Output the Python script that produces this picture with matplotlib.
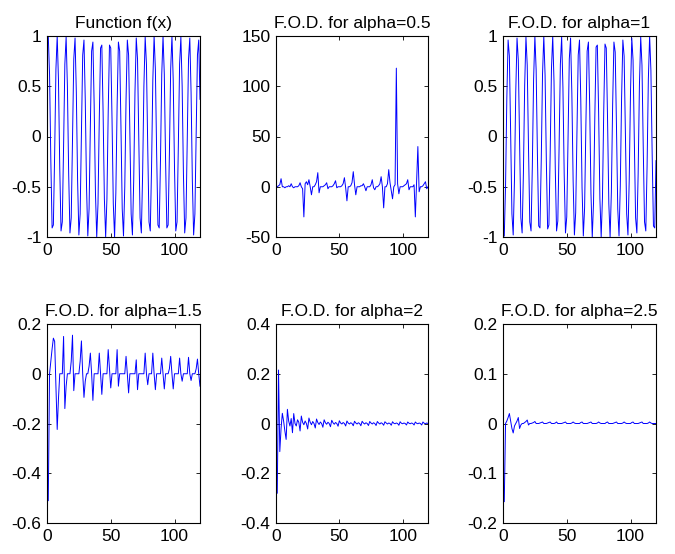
import matplotlib
matplotlib.use('Agg')
import matplotlib.pyplot as plt

plt.rcParams['font.family'] = ['Liberation Sans', 'DejaVu Sans']
plt.rcParams['axes.unicode_minus'] = False

# sample index 1..120 (MATLAB style plot(y))
x = list(range(1, 121))

f_vals = [1.00, 0.62, -0.24, -0.91, -0.88, -0.17, 0.67, 1.00, 0.56, -0.31,
          -0.94, -0.85, -0.10, 0.72, 0.99, 0.50, -0.37, -0.96, -0.81, -0.03,
          0.77, 0.98, 0.44, -0.44, -0.98, -0.77, 0.03, 0.81, 0.96, 0.37,
          -0.50, -0.99, -0.72, 0.10, 0.85, 0.94, 0.31, -0.56, -1.00, -0.67,
          0.17, 0.88, 0.91, 0.24, -0.62, -1.00, -0.62, 0.24, 0.91, 0.88,
          0.17, -0.67, -1.00, -0.56, 0.31, 0.94, 0.85, 0.10, -0.72, -0.99,
          -0.50, 0.37, 0.96, 0.81, 0.03, -0.77, -0.98, -0.44, 0.44, 0.98,
          0.77, -0.03, -0.81, -0.96, -0.37, 0.50, 0.99, 0.72, -0.10, -0.85,
          -0.94, -0.31, 0.56, 1.00, 0.67, -0.17, -0.88, -0.91, -0.24, 0.62,
          1.00, 0.62, -0.24, -0.91, -0.88, -0.17, 0.67, 1.00, 0.56, -0.31,
          -0.94, -0.85, -0.10, 0.72, 0.99, 0.50, -0.37, -0.96, -0.81, -0.03,
          0.77, 0.98, 0.44, -0.44, -0.98, -0.77, 0.03, 0.81, 0.96, 0.37]

fod_05 = [0, 1, 2, 8, 0, 0, -1, 0, 0, 1,
          0, 3, 0, -1, 0, 0, 0, 1, 4, 0,
          -2, -30, 3, 5, 2, 7, 0, -8, 0, 0,
          2, 5, 14, -6, 0, 0, 0, 1, 2, 4,
          -2, 0, 0, 0, 1, 3, 6, -1, 0, 0,
          0, 1, 3, 9, -1, -14, 0, 0, 1, 4,
          15, 2, -8, 0, 0, 0, 1, 1, 3, 0,
          -4, 0, 0, 0, 2, 7, -1, -3, 0, 0,
          1, 3, 10, 0, -21, 0, 0, 3, 17, 4,
          -4, -12, 0, 2, 118, 3, -7, 0, 0, 0,
          1, 2, 3, 7, -3, 0, 0, 0, 2, -30,
          5, 40, -5, 0, 0, 1, 3, 5, -2, 0]

fod_1 = [-0.99, -0.49, 0.38, 0.96, 0.80, 0.03, -0.77, -0.98, -0.43, 0.44,
         0.98, 0.76, -0.04, -0.81, -0.96, -0.37, 0.51, 0.99, 0.71, -0.11,
         -0.85, -0.94, -0.30, 0.57, 1.00, 0.66, -0.18, -0.89, -0.91, -0.24,
         0.62, 1.00, 0.61, -0.25, -0.92, -0.88, -0.17, 0.67, 1.00, 0.55,
         -0.32, -0.94, -0.84, -0.10, 0.72, 0.99, 0.49, -0.38, -0.96, -0.80,
         -0.03, 0.77, 0.98, 0.43, -0.44, -0.98, -0.76, 0.04, 0.81, 0.96,
         0.37, -0.51, -0.99, -0.71, 0.11, 0.85, 0.94, 0.30, -0.57, -1.00,
         -0.66, 0.18, 0.89, 0.91, 0.24, -0.62, -1.00, -0.61, 0.25, 0.92,
         0.88, 0.17, -0.67, -1.00, -0.55, 0.32, 0.94, 0.84, 0.10, -0.72,
         -0.99, -0.49, 0.38, 0.96, 0.80, 0.03, -0.77, -0.98, -0.43, 0.44,
         0.98, 0.76, -0.04, -0.81, -0.96, -0.37, 0.51, 0.99, 0.71, -0.11,
         -0.85, -0.94, -0.30, 0.57, 1.00, 0.66, -0.18, -0.89, -0.91, -0.24]

fod_15 = [-0.51, 0.0, 0.05, 0.10, 0.143, 0.13, -0.05, -0.224, -0.10, 0.0,
          0.0, 0.0, 0.15, -0.14, -0.05, 0.0, 0.0, 0.0, 0.05, 0.155,
          -0.068, 0.0, 0.0, 0.0, 0.0, 0.05, 0.132, 0.0, -0.095, -0.03,
          0.0, 0.0, 0.03, 0.083, 0.0, -0.107, 0.0, 0.0, 0.0, 0.0,
          0.083, 0.0, -0.083, 0.0, 0.0, 0.0, 0.0, 0.097, 0.02, -0.057,
          0.0, 0.0, 0.0, 0.0, 0.097, -0.05, 0.0, 0.0, 0.0, 0.0,
          0.0, 0.07, 0.0, -0.077, 0.0, 0.0, 0.0, 0.0, 0.0, 0.056,
          -0.064, 0.0, 0.0, 0.0, 0.0, 0.0, 0.083, 0.0, -0.044, 0.0,
          0.0, 0.0, 0.083, 0.0, -0.064, 0.0, 0.0, 0.0, 0.0, 0.063,
          0.0, -0.061, 0.0, 0.0, 0.0, 0.02, 0.07, 0.0, -0.061, 0.0,
          0.0, 0.0, 0.0, 0.063, 0.0, -0.03, 0.0, 0.0, 0.0, 0.0,
          0.066, 0.0, -0.027, 0.0, 0.0, 0.0, 0.02, 0.059, 0.0, -0.05]

fod_2 = [-0.28, 0.215, -0.113, -0.02, 0.041, 0.01, -0.03, -0.064, 0.057, 0.01,
         -0.01, 0.02, -0.037, 0.04, 0.0, -0.01, 0.015, 0.005, -0.03, 0.03,
         0.005, -0.005, 0.01, 0.0, -0.022, 0.022, 0.005, -0.005, 0.008, 0.0,
         -0.018, 0.018, 0.004, -0.004, 0.006, 0.0, -0.015, 0.015, 0.003, -0.003,
         0.005, 0.0, -0.013, 0.013, 0.003, -0.003, 0.004, 0.0, -0.011, 0.011,
         0.002, -0.002, 0.004, 0.0, -0.01, 0.01, 0.002, -0.002, 0.003, 0.0,
         -0.009, 0.009, 0.002, -0.002, 0.003, 0.0, -0.009, 0.009, 0.002, -0.002,
         0.003, 0.0, -0.008, 0.008, 0.002, -0.002, 0.003, 0.0, -0.008, 0.008,
         0.002, -0.002, 0.003, 0.0, -0.007, 0.007, 0.002, -0.002, 0.002, 0.0,
         -0.007, 0.007, 0.001, -0.001, 0.002, 0.0, -0.007, 0.007, 0.001, -0.001,
         0.002, 0.0, -0.006, 0.006, 0.001, -0.001, 0.002, 0.0, -0.006, 0.006,
         0.001, -0.001, 0.002, 0.0, -0.006, 0.006, 0.001, -0.001, 0.002, 0.0]

fod_25 = [-0.157, 0.0, 0.005, 0.012, 0.02, 0.005, -0.01, -0.019, -0.005, 0.0,
          0.005, 0.012, -0.01, -0.003, 0.0, 0.0, 0.002, 0.004, 0.007, -0.003,
          0.0, 0.0, 0.001, 0.002, 0.004, 0.0, 0.0, 0.0, 0.001, 0.002,
          0.003, 0.0, 0.0, 0.0, 0.001, 0.002, 0.003, 0.0, 0.0, 0.0,
          0.001, 0.003, 0.0, 0.0, 0.0, 0.0, 0.001, 0.002, 0.003, 0.0,
          0.0, 0.0, 0.0, 0.001, 0.003, 0.001, 0.0, 0.0, 0.0, 0.0,
          0.002, 0.003, 0.0, 0.0, 0.0, 0.0, 0.001, 0.002, 0.003, 0.0,
          0.0, 0.0, 0.0, 0.001, 0.003, 0.001, 0.0, 0.0, 0.0, 0.0,
          0.002, 0.003, 0.0, 0.0, 0.0, 0.0, 0.001, 0.002, 0.003, 0.0,
          0.0, 0.0, 0.0, 0.001, 0.003, 0.001, 0.0, 0.0, 0.0, 0.0,
          0.002, 0.003, 0.0, 0.0, 0.0, 0.0, 0.001, 0.002, 0.003, 0.0,
          0.0, 0.0, 0.0, 0.001, 0.003, 0.001, 0.0, 0.0, 0.0, 0.0]

titles = ['Function f(x)', 'F.O.D. for alpha=0.5', 'F.O.D. for alpha=1',
          'F.O.D. for alpha=1.5', 'F.O.D. for alpha=2', 'F.O.D. for alpha=2.5']
series = [f_vals, fod_05, fod_1, fod_15, fod_2, fod_25]

x_ticks = [0, 50, 100]
x_labels = ['0', '50', '100']
y_ticks = [[-1, -0.5, 0, 0.5, 1],
           [-50, 0, 50, 100, 150],
           [-1, -0.5, 0, 0.5, 1],
           [-0.6, -0.4, -0.2, 0, 0.2],
           [-0.4, -0.2, 0, 0.2, 0.4],
           [-0.2, -0.1, 0, 0.1, 0.2]]
y_labels = [['-1', '-0.5', '0', '0.5', '1'],
            ['-50', '0', '50', '100', '150'],
            ['-1', '-0.5', '0', '0.5', '1'],
            ['-0.6', '-0.4', '-0.2', '0', '0.2'],
            ['-0.4', '-0.2', '0', '0.2', '0.4'],
            ['-0.2', '-0.1', '0', '0.1', '0.2']]

W, H = 675, 554
fig = plt.figure(figsize=(W / 100, H / 100), dpi=100)

# axes boxes in pixels: left, right / top, bottom
col_px = [(47, 200), (276, 428), (503, 656)]
row_px = [(36, 237), (324, 523)]

for k in range(6):
    r, c = divmod(k, 3)
    l, rr = col_px[c]
    t, b = row_px[r]
    ax = fig.add_axes([l / W, 1 - b / H, (rr - l) / W, (b - t) / H])
    ax.plot(x, series[k], color='#0000ff', linewidth=0.7)
    ax.set_xlim(0, 120)
    ax.set_ylim(y_ticks[k][0], y_ticks[k][-1])
    ax.set_xticks(x_ticks)
    ax.set_xticklabels(x_labels)
    ax.set_yticks(y_ticks[k])
    ax.set_yticklabels(y_labels[k])
    ax.tick_params(direction='in', length=3, width=0.6, labelsize=12.5,
                   top=True, right=True, pad=4)
    for sp in ax.spines.values():
        sp.set_linewidth(0.8)
    ax.set_title(titles[k], fontsize=12.5, pad=6)

fig.savefig('out.png', dpi=100)
